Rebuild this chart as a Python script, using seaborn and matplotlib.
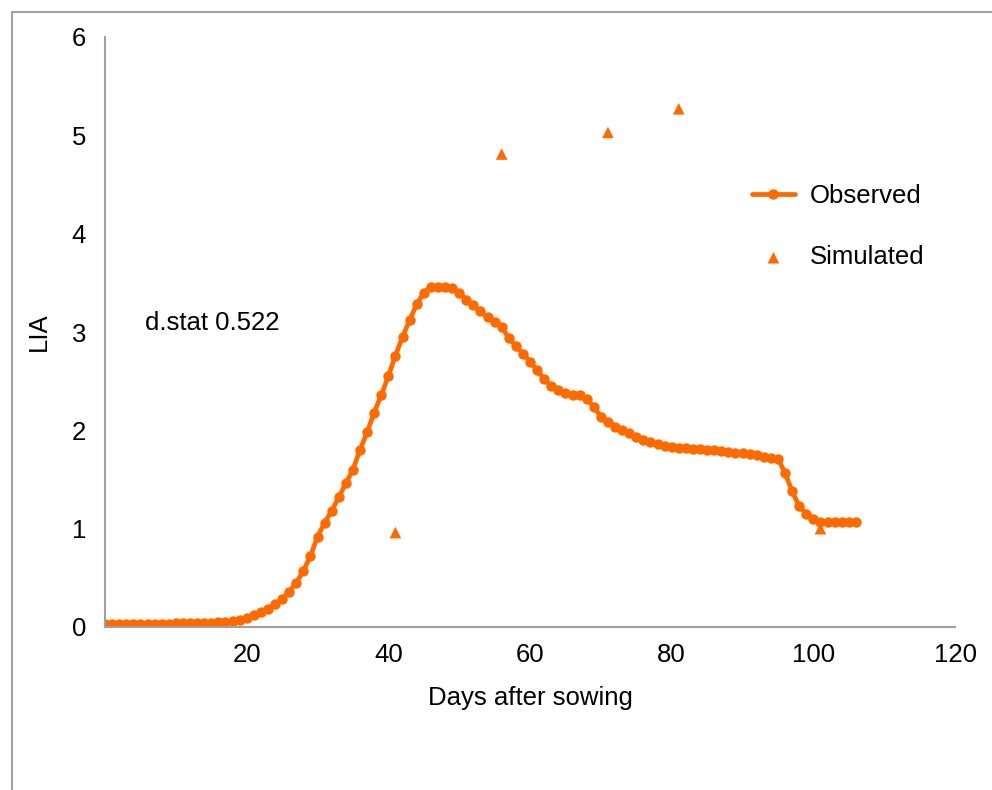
import matplotlib
matplotlib.use("Agg")
import matplotlib.pyplot as plt
import seaborn as sns
import pandas as pd
import numpy as np

# ---- data ----
obs_days = list(range(0, 107))
obs_lia = [
    0.03, 0.03, 0.03, 0.03, 0.03, 0.03, 0.03, 0.03, 0.03, 0.03,   # 0-9
    0.04, 0.04, 0.04, 0.04, 0.04, 0.04, 0.05, 0.05, 0.06, 0.07,   # 10-19
    0.09, 0.12, 0.15, 0.18, 0.23, 0.28, 0.36, 0.45, 0.57, 0.72,   # 20-29
    0.92, 1.06, 1.18, 1.32, 1.46, 1.60, 1.80, 1.98, 2.18, 2.36,   # 30-39
    2.55, 2.76, 2.95, 3.12, 3.28, 3.40, 3.46, 3.46, 3.46, 3.45,   # 40-49
    3.40, 3.33, 3.27, 3.21, 3.15, 3.10, 3.05, 2.94, 2.86, 2.78,   # 50-59
    2.70, 2.61, 2.52, 2.45, 2.41, 2.38, 2.36, 2.36, 2.32, 2.24,   # 60-69
    2.14, 2.08, 2.03, 2.00, 1.97, 1.93, 1.90, 1.88, 1.86, 1.84,   # 70-79
    1.83, 1.82, 1.82, 1.81, 1.81, 1.80, 1.80, 1.79, 1.78, 1.77,   # 80-89
    1.77, 1.76, 1.75, 1.73, 1.72, 1.71, 1.57, 1.38, 1.23, 1.15,   # 90-99
    1.10, 1.07, 1.07, 1.07, 1.07, 1.07, 1.07,                     # 100-106
]
sim_days = [41, 56, 71, 81, 101]
sim_lia = [0.96, 4.81, 5.03, 5.27, 1.00]

x_ticks = [0, 20, 40, 60, 80, 100, 120]
x_tick_labels = ["", "20", "40", "60", "80", "100", "120"]
y_ticks = [0, 1, 2, 3, 4, 5, 6]

obs_df = pd.DataFrame({"day": obs_days, "lia": obs_lia})
sim_df = pd.DataFrame({"day": sim_days, "lia": sim_lia})

# ---- style ----
sns.set_style("white")
plt.rcParams["font.family"] = ["Liberation Sans", "DejaVu Sans"]
plt.rcParams["text.color"] = "black"
plt.rcParams["axes.labelcolor"] = "black"

FS = 18.5
ORANGE = "#FF6A00"
GRAY = "#a0a0a0"

fig = plt.figure(figsize=(9.92, 7.90), dpi=100)
ax = fig.add_axes([105 / 992, 1 - 627 / 790, 850 / 992, 590 / 790])

sns.lineplot(data=obs_df, x="day", y="lia", ax=ax, color=ORANGE, lw=3.4,
             marker="o", markersize=7.5, markeredgewidth=0, label="Observed")
sns.scatterplot(data=sim_df, x="day", y="lia", ax=ax, color=ORANGE,
                marker="^", s=70, edgecolor="none", label="Simulated")

ax.set_xlim(0, 120)
ax.set_ylim(0, 6)
ax.set_xticks(x_ticks)
ax.set_xticklabels(x_tick_labels)
ax.set_yticks(y_ticks)

for side in ["top", "right"]:
    ax.spines[side].set_visible(False)
for side in ["left", "bottom"]:
    ax.spines[side].set_color(GRAY)
    ax.spines[side].set_linewidth(1.5)
ax.tick_params(axis="both", which="both", length=4.5, width=1.5, color=GRAY,
               labelsize=FS, labelcolor="black", direction="out")
ax.tick_params(axis="x", pad=7)
ax.tick_params(axis="y", pad=9)

ax.set_xlabel("Days after sowing", fontsize=FS, labelpad=14)
ax.set_ylabel("LIA", fontsize=FS, labelpad=15)

ax.text(5.7, 3.09, "d.stat 0.522", fontsize=FS, va="center", ha="left")

leg = ax.legend(loc="upper left", bbox_to_anchor=(0.740, 0.781), frameon=False,
                fontsize=FS, labelspacing=1.45, handlelength=1.67,
                handletextpad=0.58, borderpad=0.2)

# outer frame (top and left lines)
fig.add_artist(plt.Line2D([12 / 992, 12 / 992], [0, 1 - 12 / 790],
                          color=GRAY, lw=1.5, transform=fig.transFigure))
fig.add_artist(plt.Line2D([12 / 992, 1], [1 - 12 / 790, 1 - 12 / 790],
                          color=GRAY, lw=1.5, transform=fig.transFigure))

fig.savefig("out.png", dpi=100)
